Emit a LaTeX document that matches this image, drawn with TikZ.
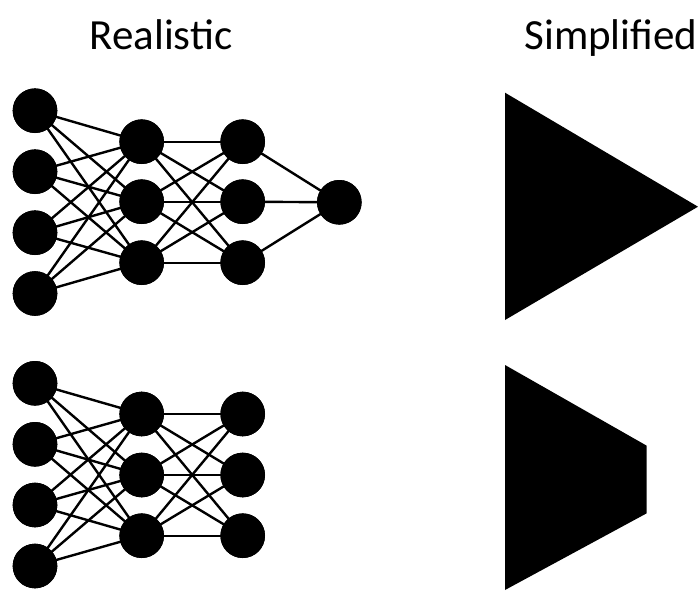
\documentclass[tikz,border=0pt]{standalone}
\usepackage{fontspec}
\setmainfont{Carlito}
\begin{document}
\begin{tikzpicture}[x=1pt,y=-1pt,
  neuron/.style={circle,fill=black,inner sep=0pt,minimum size=44.6pt},
  link/.style={line width=2.4pt,black},
  title/.style={anchor=base,inner sep=0pt,font=\fontsize{43}{50}\selectfont}]
\useasboundingbox (0,0) rectangle (698,591);
\node[title] (t1) at (161,49.5) {Realistic};
\node[title] (t2) at (611,49.5) {Simplified};
% top network
\foreach \i/\y in {1/110.7,2/171.7,3/232.7,4/293.5}
  \node[neuron] (a\i) at (35,\y) {};
\foreach \i/\y in {1/141.7,2/201.7,3/262.7}{
  \node[neuron] (b\i) at (141.7,\y) {};
  \node[neuron] (c\i) at (242.7,\y) {};}
\node[neuron] (d1) at (339.3,202.3) {};
% bottom network
\foreach \i/\y in {1/383.3,2/444.3,3/505,4/566}
  \node[neuron] (p\i) at (35,\y) {};
\foreach \i/\y in {1/414,2/475,3/535.7}{
  \node[neuron] (q\i) at (141.7,\y) {};
  \node[neuron] (r\i) at (242.7,\y) {};}
\foreach \i in {1,...,4}\foreach \j in {1,2,3}{
  \draw[link] (a\i.center) -- (b\j.center);
  \draw[link] (p\i.center) -- (q\j.center);}
\foreach \i in {1,2,3}\foreach \j in {1,2,3}{
  \draw[link] (b\i.center) -- (c\j.center);
  \draw[link] (q\i.center) -- (r\j.center);}
\foreach \i in {1,2,3}
  \draw[link] (c\i.center) -- (d1.center);
% redraw nodes on top of the links
\foreach \n in {a1,a2,a3,a4,b1,b2,b3,c1,c2,c3,d1,p1,p2,p3,p4,q1,q2,q3,r1,r2,r3}
  \fill (\n) circle (22.3pt);
% simplified shapes
\fill (505,92.7) -- (698,206.7) -- (505,320) -- cycle;
\fill (505,365) -- (646.7,445.7) -- (646.7,513.3) -- (505,590) -- cycle;
\end{tikzpicture}
\end{document}
